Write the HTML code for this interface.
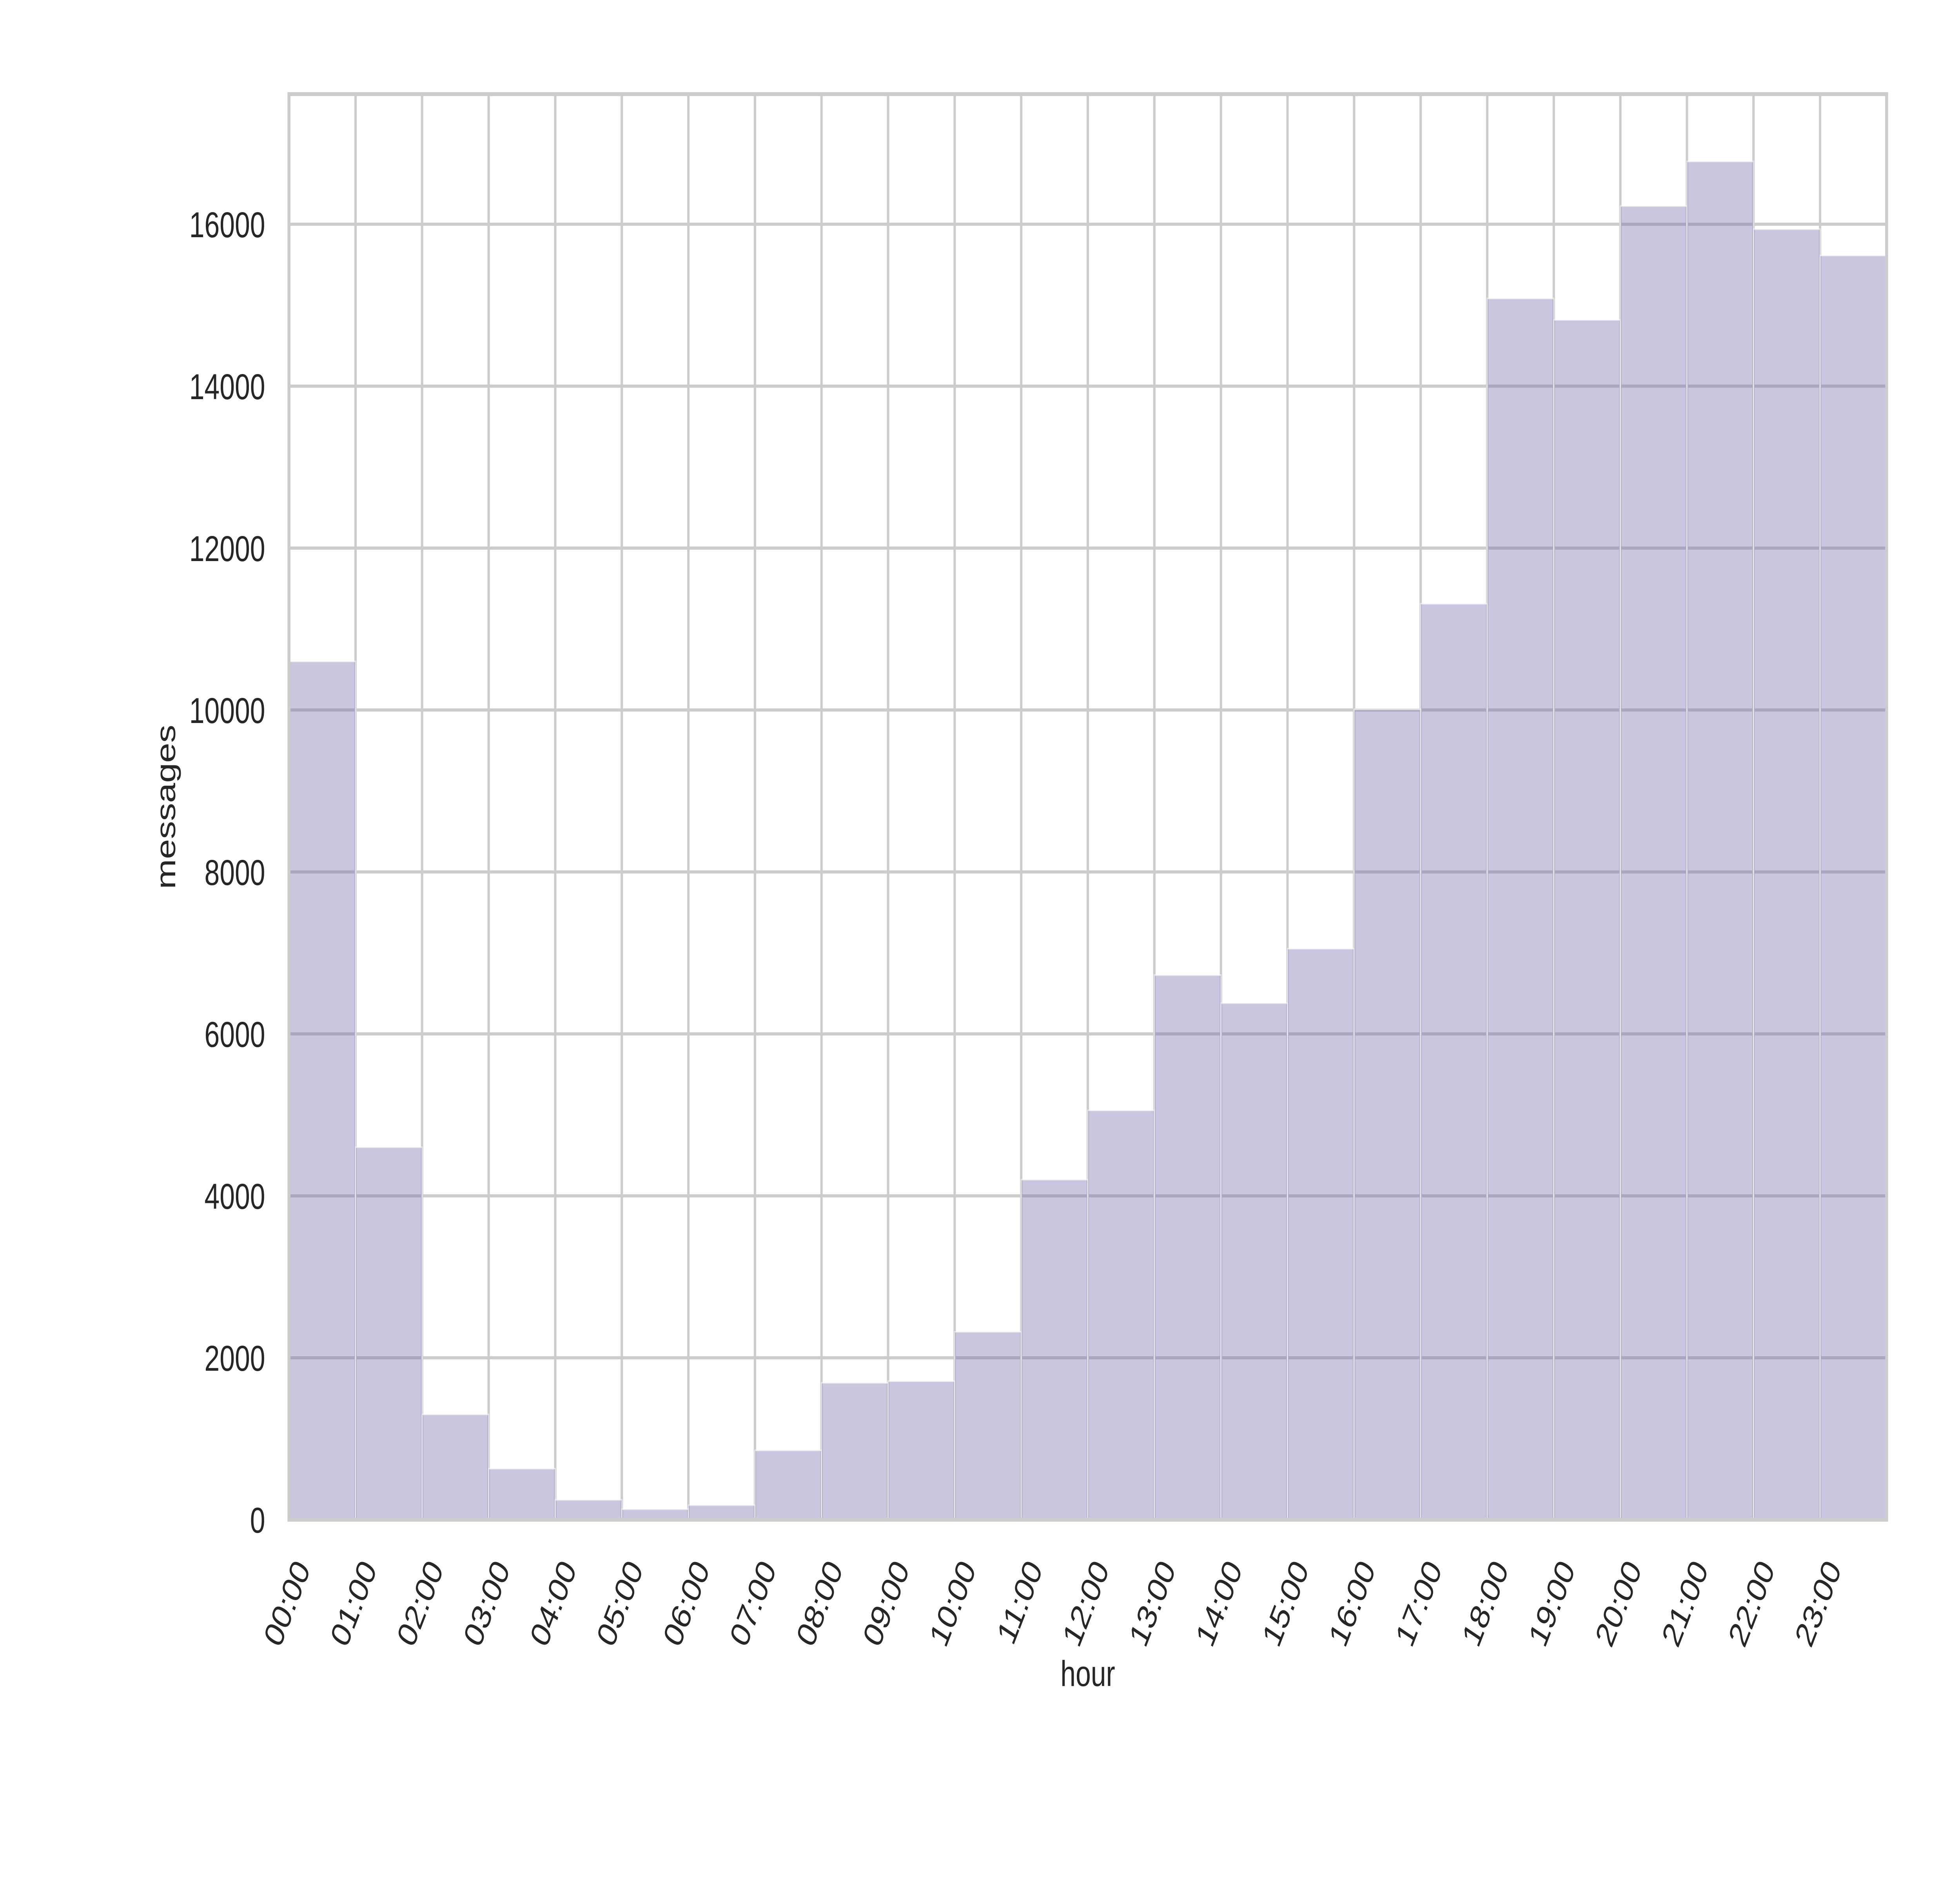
<!DOCTYPE html>
<html><head><meta charset="utf-8"><style>html,body{margin:0;padding:0;background:#fff;width:100%;height:100%;overflow:hidden;}svg{display:block;width:100vw;height:100vh;}</style></head>
<body>
<svg id="chart" xmlns="http://www.w3.org/2000/svg" viewBox="0 0 6600 4800" preserveAspectRatio="none" font-family="'Liberation Sans', 'DejaVu Sans', sans-serif" overflow="hidden">
<rect x="0" y="0" width="6600" height="4800" fill="#ffffff"/>
<g id="grid"></g>
<g id="bars"></g>
<g id="spines"></g>
<g id="yticks"></g>
<g id="xticks"></g>
<text x="3663" y="4300" font-size="92" fill="#262626" text-anchor="middle">hour</text>
<text x="0" y="0" transform="translate(590,2058) rotate(-90)" font-size="92" fill="#262626" text-anchor="middle">messages</text>
</svg>
<script>
const hours = ["00:00","01:00","02:00","03:00","04:00","05:00","06:00","07:00","08:00","09:00","10:00","11:00","12:00","13:00","14:00","15:00","16:00","17:00","18:00","19:00","20:00","21:00","22:00","23:00"];
const messages = [10600,4600,1300,630,245,130,180,856,1690,1710,2320,4200,5055,6726,6380,7052,10008,11312,15083,14818,16224,16775,15939,15613];
const yTicks = [0,2000,4000,6000,8000,10000,12000,14000,16000];
const yTickLabels = ["0","2000","4000","6000","8000","10000","12000","14000","16000"];

const NS = "http://www.w3.org/2000/svg";
const L = 973, R = 6353, T = 240, B = 3876;
const yMax = 17607;
const nBins = hours.length;
function xScale(i){ return L + (R - L) * i / nBins; }
function yScale(v){ return B - (B - T) * v / yMax; }
function mk(tag, attrs, parent){ const e = document.createElementNS(NS, tag); for (const k in attrs) e.setAttribute(k, attrs[k]); parent.appendChild(e); return e; }

const grid = document.getElementById('grid');
yTicks.forEach((v) => {
  const ln = mk('line', {x1:L, x2:R, y1:yScale(v), y2:yScale(v), stroke:'#cccccc', 'stroke-width':8}, grid);
  
  
});
hours.forEach((h, i) => {
  const ln = mk('line', {x1:xScale(i), x2:xScale(i), y1:T, y2:B, stroke:'#cccccc', 'stroke-width':8}, grid);
  
  
});

const bars = document.getElementById('bars');
messages.forEach((v, i) => {
  const x0 = xScale(i), x1 = xScale(i + 1), y = yScale(v);
  const r = mk('rect', {x:x0, y:y, width:x1 - x0, height:B - y, fill:'rgb(122,109,173)', 'fill-opacity':0.39, stroke:'#ffffff', 'stroke-opacity':0.55, 'stroke-width':4}, bars);
  
  
});

const spines = document.getElementById('spines');
const fr = mk('rect', {x:L, y:T, width:R - L, height:B - T, fill:'none', stroke:'#cccccc', 'stroke-width':10}, spines);



const yt = document.getElementById('yticks');
yTicks.forEach((v, i) => {
  const t = mk('text', {x:893, y:yScale(v) + 33, 'font-size':92, fill:'#262626', 'text-anchor':'end'}, yt);
  t.textContent = yTickLabels[i];
  
  
});

const xt = document.getElementById('xticks');
hours.forEach((h, i) => {
  const x0 = xScale(i) + 52, y0 = 3990;
  const t = mk('text', {x:0, y:0, 'font-size':92, fill:'#262626', 'text-anchor':'end', 'dominant-baseline':'middle', transform:'translate(' + x0 + ',' + y0 + ') rotate(-63)'}, xt);
  t.textContent = h;
  
  
});
</script>
</body></html>
